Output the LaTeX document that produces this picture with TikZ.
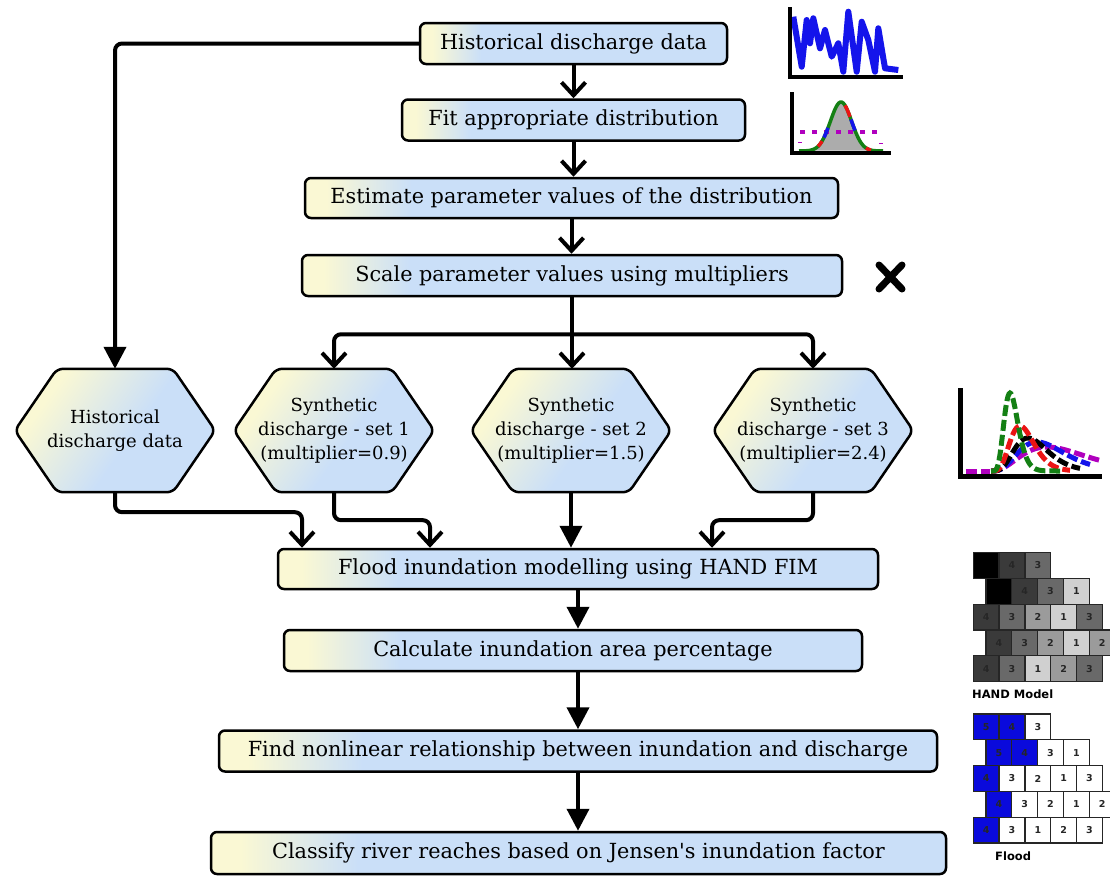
\documentclass[tikz,border=0pt]{standalone}
\usepackage{fontspec}
\setmainfont{DejaVu Serif}
\newfontfamily\lblfont{DejaVu Sans}
\usetikzlibrary{arrows.meta,backgrounds}
\definecolor{byel}{RGB}{250,248,212}
\definecolor{bblu}{RGB}{202,223,248}
\definecolor{g4}{RGB}{58,58,58}
\definecolor{g3}{RGB}{105,105,105}
\definecolor{g2}{RGB}{155,155,155}
\definecolor{g1}{RGB}{208,208,208}
\definecolor{fb}{RGB}{10,10,220}
\definecolor{dgreen}{RGB}{20,128,20}
\definecolor{dred}{RGB}{235,20,20}
\definecolor{dblue}{RGB}{20,20,235}
\definecolor{dmag}{RGB}{176,0,190}
\pgfdeclarehorizontalshading{boxsh}{100bp}{color(0bp)=(byel); color(25bp)=(byel); color(27bp)=(byel); color(35bp)=(bblu); color(100bp)=(bblu)}
\pgfdeclarehorizontalshading{hexsh}{100bp}{color(0bp)=(byel); color(28bp)=(byel); color(55bp)=(bblu); color(100bp)=(bblu)}
\newcommand\drawhexof[1]{\path[hexdraw] ([xshift=-58pt]#1.north) -- ([xshift=58pt]#1.north) -- (#1.east) -- ([xshift=58pt]#1.south) -- ([xshift=-58pt]#1.south) -- (#1.west) -- cycle;}
\newcommand\gridrow[4]{\foreach \f/\l [count=\i from 0] in {#4} {\node[cell, fill=\f] (#1\i) at ({#3+12.9+25.8*\i},#2) {\l};}}
\begin{document}
\begin{tikzpicture}[x=1pt,y=-1pt,font=\fontsize{18}{24}\selectfont,
  box/.style={draw, line width=2.5pt, rounded corners=6pt, shade, shading=boxsh, minimum height=41pt, inner sep=0pt, font=\fontsize{20.8}{24}\selectfont},
  hexn/.style={minimum width=200pt, minimum height=123pt, inner sep=0pt, align=center},
  hexdraw/.style={draw, line width=2.5pt, rounded corners=6pt, shade, shading=hexsh, shading angle=-35},
  conn/.style={line width=4pt, rounded corners=7pt},
  varr/.style={conn, -{Straight Barb[length=13pt,width=24pt]}},
  farr/.style={conn, -{Triangle[length=22pt,width=22pt]}},
  cell/.style={draw=black!85, line width=1.3pt, minimum size=25.8pt, inner sep=0pt, text=black!85, font=\lblfont\bfseries\fontsize{9.5}{10}\selectfont},
  lbl/.style={font=\lblfont\bfseries\fontsize{11.5}{13}\selectfont, anchor=west, inner sep=0pt}
]
\path[use as bounding box] (0,0) rectangle (1110,876);
\begin{scope}[on background layer]
\fill[white] (0,0) rectangle (1110,876);
\end{scope}

% main boxes
\node[box, minimum width=307pt] (b1) at (573.5,43.5) {Historical discharge data};
\node[box, minimum width=343pt] (b2) at (573.5,120) {Fit appropriate distribution};
\node[box, minimum width=533pt, minimum height=40pt] (b3) at (571.5,198) {Estimate parameter values of the distribution};
\node[box, minimum width=540pt] (b4) at (572,275.5) {Scale parameter values using multipliers};
\node[box, minimum width=600pt, minimum height=40pt] (b5) at (578,569) {Flood inundation modelling using HAND FIM};
\node[box, minimum width=578pt] (b6) at (573,650.5) {Calculate inundation area percentage};
\node[box, minimum width=718pt] (b7) at (578,751) {Find nonlinear relationship between inundation and discharge};
\node[box, minimum width=735pt, minimum height=42pt] (b8) at (578.5,853) {Classify river reaches based on Jensen\textquotesingle s inundation factor};

% hexagons
\node[hexn] (h1) at (115,430.5) {Historical\\discharge data};
\node[hexn] (h2) at (334,430.5) {Synthetic\\discharge - set 1\\(multiplier=0.9)};
\node[hexn] (h3) at (571,430.5) {Synthetic\\discharge - set 2\\(multiplier=1.5)};
\node[hexn] (h4) at (813,430.5) {Synthetic\\discharge - set 3\\(multiplier=2.4)};
\begin{scope}[on background layer]
\drawhexof{h1}\drawhexof{h2}\drawhexof{h3}\drawhexof{h4}
\end{scope}

% connectors
\draw[varr] (b1.south) -- (b1.south |- b2.north);
\draw[varr] (b2.south) -- (b2.south |- b3.north);
\draw[varr] (b3.south) -- (b3.south |- b4.north);
\draw[farr] (b1.west) -| (h1.north);
\draw[conn] (b4.south) -- ++(0,37) coordinate (split);
\draw[varr] (split) -| (h2.north);
\draw[varr] (split) -- (split |- h3.north);
\draw[varr] (split) -| (h4.north);
\draw[varr] (h1.south) -- ++(0,20) -| ([xshift=-276pt]b5.north);
\draw[varr] (h2.south) -- ++(0,28) -| ([xshift=-148pt]b5.north);
\draw[farr] (h3.south) -- (h3.south |- b5.north);
\draw[varr] (h4.south) -- ++(0,28) -| ([xshift=134pt]b5.north);
\draw[farr] (b5.south) -- (b5.south |- b6.north);
\draw[farr] (b7.north |- b6.south) -- (b7.north);
\draw[farr] (b7.south) -- (b7.south |- b8.north);

% X mark
\draw[line width=7pt, line cap=round] (879,265) -- (902,289) (902,265) -- (879,289);

% icon 1: time series
\draw[dblue, line width=6pt, line join=round] (793.3,16.7) -- (801.7,66.7) -- (806.7,20) -- (810,43.3) -- (813.3,18.3) -- (820,48.3) -- (825,30) -- (831.7,56.7) -- (838.3,43.3) -- (843.3,71.7) -- (848.3,11.7) -- (856.7,71.7) -- (861.7,21.7) -- (868.3,40) -- (875,71.7) -- (878.3,28.3) -- (885,68.3) -- (898.3,70);
\draw[line width=4pt] (790,7) -- (790,77) -- (903,77);

% icon 2: fitted distribution
\fill[gray!65] plot[domain=-34:34, samples=40] ({841+\x},{151-49*exp(-(\x/15)^2)}) -- cycle;
\draw[dmag, line width=4pt, dash pattern=on 5pt off 7pt] (800,132) -- (882,132);
\draw[dmag, line width=4pt, dash pattern=on 5pt off 7pt] (800,142) -- (800,143) (881,143) -- (881,144);
\draw[dgreen, line width=3.5pt] plot[domain=-42:42, samples=60] ({841+\x},{151-49*exp(-(\x/15)^2)});
\draw[dred, line width=3.5pt] plot[domain=-23:-19, samples=6] ({841+\x},{151-49*exp(-(\x/15)^2)});
\draw[dred, line width=3.5pt] plot[domain=4:9, samples=6] ({841+\x},{151-49*exp(-(\x/15)^2)});
\draw[dred, line width=3.5pt] plot[domain=25:30, samples=6] ({841+\x},{151-49*exp(-(\x/15)^2)});
\draw[dblue, line width=3.5pt] plot[domain=-17:-13, samples=6] ({841+\x},{151-49*exp(-(\x/15)^2)});
\draw[dblue, line width=3.5pt] plot[domain=10:14, samples=6] ({841+\x},{151-49*exp(-(\x/15)^2)});
\draw[line width=4pt] (792,92) -- (792,153) -- (891,153);

% icon 3: scaled distributions
\begin{scope}[line width=5pt, dash pattern=on 11pt off 4pt]
\draw[dmag] (966,471) -- (990,471);
\draw[dmag] plot[domain=1:110, samples=60] ({990+\x},{471-24*((\x/57)*exp(1-\x/57))^3});
\draw[dblue] plot[domain=1:100, samples=60] ({990+\x},{471-29*((\x/47)*exp(1-\x/47))^4});
\draw[black] plot[domain=1:90, samples=60] ({990+\x},{471-33*((\x/38)*exp(1-\x/38))^5});
\draw[dred] plot[domain=1:80, samples=60] ({990+\x},{471-45*((\x/30)*exp(1-\x/30))^6});
\draw[dgreen] plot[domain=1:70, samples=70] ({990+\x},{471-78*((\x/20)*exp(1-\x/20))^8});
\end{scope}
\draw[line width=5pt] (960,388) -- (960,476) -- (1102,476);

% HAND model grid
\gridrow{hA}{565.5}{973.3}{black/,g4/4,g3/3}
\gridrow{hB}{591.3}{986}{black/,g4/4,g3/3,g1/1}
\gridrow{hC}{617.1}{973.3}{g4/4,g3/3,g2/2,g1/1,g3/3}
\gridrow{hD}{642.9}{986}{g4/4,g3/3,g2/2,g1/1,g2/2}
\gridrow{hE}{668.7}{973.3}{g4/4,g3/3,g1/1,g2/2,g3/3}
\node[lbl] (handlbl) at (972,694) {HAND Model};

% Flood grid
\gridrow{fA}{726.9}{973.3}{fb/5,fb/4,white/3}
\gridrow{fB}{752.7}{986}{fb/5,fb/4,white/3,white/1}
\gridrow{fC}{778.5}{973.3}{fb/4,white/3,white/2,white/1,white/3}
\gridrow{fD}{804.3}{986}{fb/4,white/3,white/2,white/1,white/2}
\gridrow{fE}{830.1}{973.3}{fb/4,white/3,white/1,white/2,white/3}
\node[lbl] (floodlbl) at (995,856) {Flood};
\end{tikzpicture}
\end{document}
